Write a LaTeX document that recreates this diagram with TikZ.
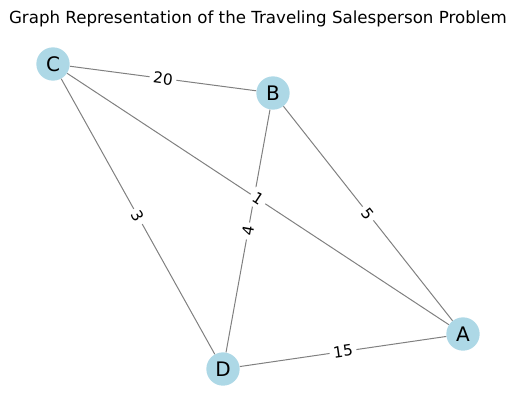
\documentclass[tikz,border=0pt]{standalone}
\usepackage{fontspec}
\setmainfont{DejaVu Sans}
\usetikzlibrary{positioning}
\definecolor{nodeblue}{RGB}{173,216,230}
\begin{document}
\begin{tikzpicture}[x=0.75pt, y=-0.75pt,
  city/.style={circle, fill=nodeblue, minimum size=25pt, inner sep=0pt,
               font=\fontsize{15}{17}\selectfont},
  road/.style={draw=gray, line width=0.75pt},
  cost/.style={midway, sloped, fill=white, inner sep=2.8pt,
               font=\fontsize{11.5}{13}\selectfont}]
\useasboundingbox (0,0) rectangle (516,411);
\node[font=\fontsize{12.5}{14}\selectfont] (title) at (258,19) {Graph Representation of the Traveling Salesperson Problem};
\node[city] (C) at (53,64) {C};
\node[city] (B) at (273,93) {B};
\node[city] (A) at (463,334) {A};
\node[city] (D) at (223,369) {D};
\path[road] (C) -- node[cost] {20} (B);
\path[road] (B) -- node[cost] {5} (A);
\path[road] (C) -- node[cost] {3} (D);
\path[road] (D) -- node[cost] {4} (B);
\path[road] (C) -- node[cost] {1} (A);
\path[road] (D) -- node[cost] {15} (A);
\end{tikzpicture}
\end{document}
